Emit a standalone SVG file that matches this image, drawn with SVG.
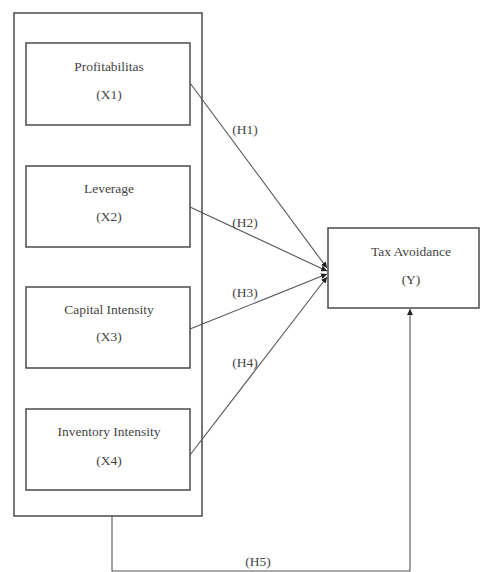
<svg xmlns="http://www.w3.org/2000/svg" width="482" height="572" viewBox="0 0 482 572">
<style>
.box{fill:none;stroke:#555;stroke-width:1.6}
.ln{fill:none;stroke:#555;stroke-width:1.1}
.t{font-family:"Liberation Serif",serif;font-size:13.5px;fill:#444;text-anchor:middle}
</style>
<defs>
<marker id="ah" viewBox="0 0 10 10" refX="10" refY="5" markerWidth="6" markerHeight="6" orient="auto" markerUnits="userSpaceOnUse">
<path d="M0,0 L10,5 L0,10 z" fill="#222"/>
</marker>
</defs>
<rect width="482" height="572" fill="#fff"/>
<g id="outer"><rect class="box" x="14" y="13" width="188" height="503"/></g>
<g id="x1"><rect class="box" x="26" y="43" width="164" height="82"/><text class="t" x="109" y="71">Profitabilitas</text><text class="t" x="109" y="99">(X1)</text></g>
<g id="x2"><rect class="box" x="26" y="166" width="164" height="81"/><text class="t" x="109" y="193">Leverage</text><text class="t" x="109" y="221">(X2)</text></g>
<g id="x3"><rect class="box" x="26" y="287" width="164" height="81"/><text class="t" x="109" y="314">Capital Intensity</text><text class="t" x="109" y="341">(X3)</text></g>
<g id="x4"><rect class="box" x="26" y="409" width="164" height="81"/><text class="t" x="109" y="436">Inventory Intensity</text><text class="t" x="109" y="465">(X4)</text></g>
<g id="y"><rect class="box" x="328" y="228" width="151" height="80"/><text class="t" x="411" y="256">Tax Avoidance</text><text class="t" x="411" y="284">(Y)</text></g>
<g id="connectors">
<line class="ln" x1="190" y1="83" x2="327" y2="268" marker-end="url(#ah)"/>
<line class="ln" x1="190" y1="207" x2="327" y2="271" marker-end="url(#ah)"/>
<line class="ln" x1="190" y1="329" x2="327" y2="274" marker-end="url(#ah)"/>
<line class="ln" x1="190" y1="455" x2="327" y2="277" marker-end="url(#ah)"/>
<polyline class="ln" points="112,516 112,571 410,571 410,309" marker-end="url(#ah)"/>
<text class="t" x="245" y="134">(H1)</text>
<text class="t" x="245" y="227">(H2)</text>
<text class="t" x="245" y="297">(H3)</text>
<text class="t" x="245" y="367">(H4)</text>
<text class="t" x="258" y="566">(H5)</text>
</g>
</svg>
